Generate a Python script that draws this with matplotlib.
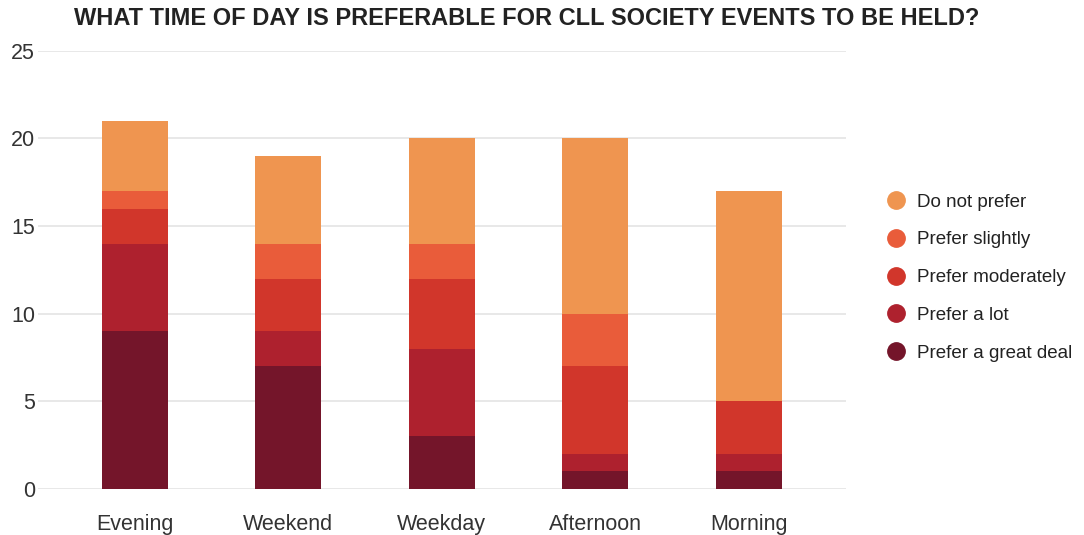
import matplotlib
matplotlib.use("Agg")
import matplotlib.pyplot as plt
from matplotlib.lines import Line2D
import numpy as np

categories = ["Evening", "Weekend", "Weekday", "Afternoon", "Morning"]
series_names = ["Prefer a great deal", "Prefer a lot", "Prefer moderately",
                "Prefer slightly", "Do not prefer"]
great_deal = [9, 7, 3, 1, 1]
a_lot = [5, 2, 5, 1, 1]
moderately = [2, 3, 4, 5, 3]
slightly = [1, 2, 2, 3, 0]
do_not = [4, 5, 6, 10, 12]
colors = ["#74152a", "#ae212e", "#d1362b", "#e95c3a", "#ef9550"]

plt.rcParams["font.family"] = ["Liberation Sans", "DejaVu Sans"]

fig = plt.figure(figsize=(10.84, 5.35), dpi=100)
ax = fig.add_axes([0.035, 0.086, 0.745, 0.819])

x = np.arange(len(categories))
bottom = np.zeros(len(categories))
for name, vals, col in zip(series_names,
                           [great_deal, a_lot, moderately, slightly, do_not],
                           colors):
    ax.bar(x, vals, bottom=bottom, width=0.43, color=col, zorder=3,
           label=name)
    bottom += np.array(vals)

ax.set_xlim(-0.632, 4.632)
ax.set_ylim(0, 25)
ax.set_yticks([0, 5, 10, 15, 20, 25])
ax.set_xticks(x)
ax.set_xticklabels(categories)
ax.yaxis.grid(True, color="#e6e6e6", linewidth=1.3, zorder=0)
ax.set_axisbelow(True)
for s in ax.spines.values():
    s.set_visible(False)
ax.tick_params(axis="both", length=0, labelsize=15.5, colors="#333333")
ax.tick_params(axis="y", pad=2)
ax.tick_params(axis="x", pad=18)

handles = [Line2D([0], [0], marker="o", linestyle="", markersize=12.5,
                  markerfacecolor=c, markeredgecolor=c) for c in colors[::-1]]
fig.legend(handles, series_names[::-1], loc="center left",
           bbox_to_anchor=(0.794, 0.481), frameon=False, fontsize=13.5,
           handletextpad=0.1, labelspacing=1.1, labelcolor="#222222")

fig.text(0.486, 0.965, "WHAT TIME OF DAY IS PREFERABLE FOR CLL SOCIETY EVENTS TO BE HELD?",
         ha="center", va="center", fontsize=17, fontweight="bold",
         family=["Liberation Sans Narrow", "Liberation Sans", "DejaVu Sans"],
         color="#222222")

fig.savefig("out.png", dpi=100)
